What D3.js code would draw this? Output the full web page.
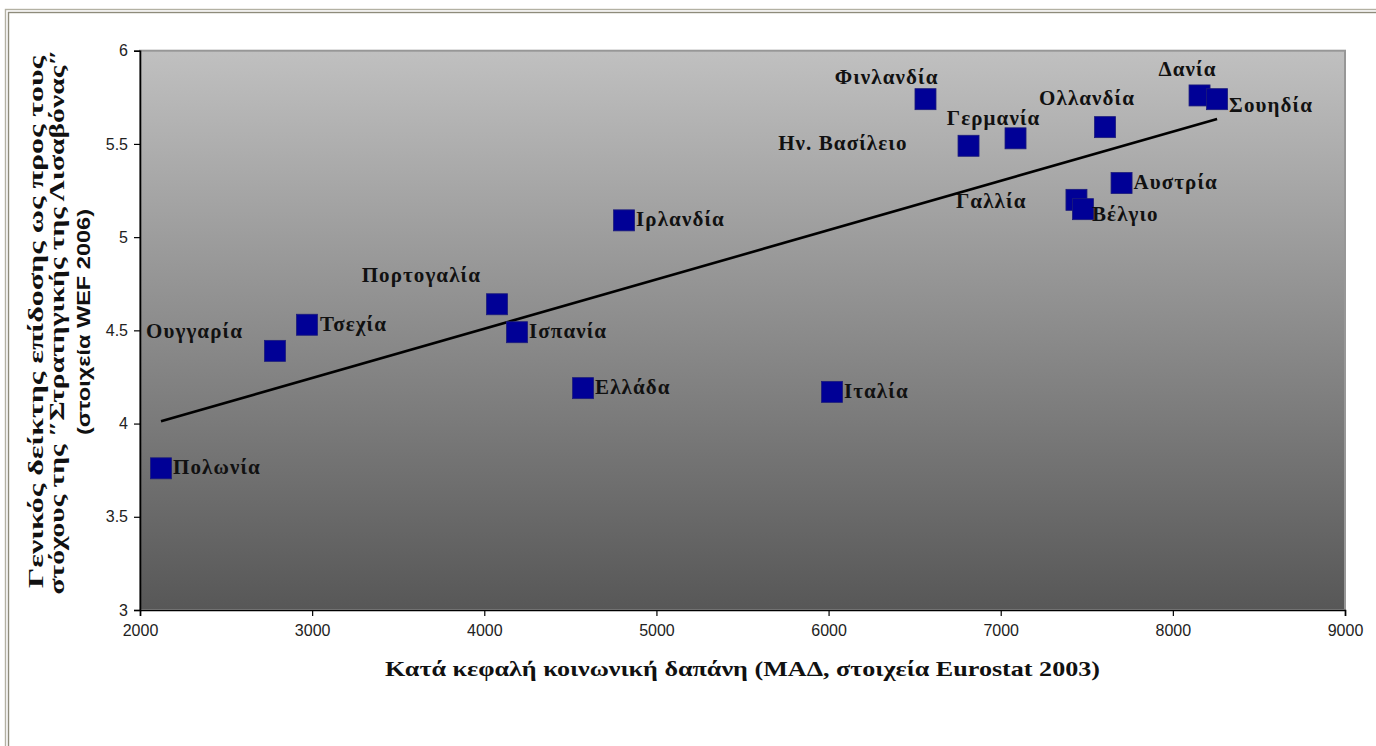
<!DOCTYPE html>
<html>
<head>
<meta charset="utf-8">
<script src="https://cdn.jsdelivr.net/npm/d3@7"></script>
<style>
  body { margin: 0; background: #fff; }
  svg { display: block; }
</style>
</head>
<body>
<div id="chart"></div>
<script>
// values
const countries = ["Πολωνία", "Ουγγαρία", "Τσεχία", "Πορτογαλία", "Ισπανία", "Ελλάδα",
    "Ιρλανδία", "Ιταλία", "Φινλανδία", "Ην. Βασίλειο", "Γερμανία", "Ολλανδία",
    "Αυστρία", "Γαλλία", "Βέλγιο", "Δανία", "Σουηδία"];
const spending = [2122, 2784, 2970, 4074, 4190, 4574, 4812, 6020, 6563, 6813, 7086, 7606,
    7702, 7440, 7478, 8155, 8257];
const lisbonIndex = [3.76, 4.39, 4.53, 4.64, 4.49, 4.19, 5.09, 4.17, 5.74, 5.49, 5.53, 5.59,
    5.29, 5.20, 5.15, 5.76, 5.74];
const xTicks = [2000, 3000, 4000, 5000, 6000, 7000, 8000, 9000];
const yTicks = [3, 3.5, 4, 4.5, 5, 5.5, 6];

const xTitle = "Κατά κεφαλή κοινωνική δαπάνη (ΜΑΔ, στοιχεία Eurostat 2003)";
const yTitle = ["Γενικός δείκτης επίδοσης ως προς τους",
    "στόχους της \u2033Στρατηγικής της Λισαβόνας\u2033",
    "(στοιχεία WEF 2006)"];

// label placement next to each square: [dx, dy, anchor]
const labelPlace = {
    "Πολωνία": [12, 6, "start"],
    "Ουγγαρία": [-32, -13, "end"],
    "Τσεχία": [13, 6, "start"],
    "Πορτογαλία": [-16, -22, "end"],
    "Ισπανία": [12, 6, "start"],
    "Ελλάδα": [12, 6, "start"],
    "Ιρλανδία": [12, 6, "start"],
    "Ιταλία": [12, 6, "start"],
    "Φινλανδία": [13, -15, "end"],
    "Ην. Βασίλειο": [-61, 4, "end"],
    "Γερμανία": [-22, -13, "middle"],
    "Ολλανδία": [-18, -22, "middle"],
    "Αυστρία": [12, 6, "start"],
    "Γαλλία": [-50, 8, "end"],
    "Βέλγιο": [9, 12, "start"],
    "Δανία": [-12, -19, "middle"],
    "Σουηδία": [12, 13, "start"]
};

const width = 1376, height = 746;
const plot = {left: 140, right: 1345, top: 50.7, bottom: 610};

const svg = d3.select("#chart").append("svg")
    .attr("width", width)
    .attr("height", height);

// frame around the whole picture
svg.append("rect")
    .attr("x", 5.5).attr("y", 9.5)
    .attr("width", 1500).attr("height", 900)
    .attr("fill", "none")
    .attr("stroke", "#b3b1a3")
    .attr("stroke-width", 1.4);
svg.append("rect")
    .attr("x", 8.5).attr("y", 12.5)
    .attr("width", 1500).attr("height", 900)
    .attr("fill", "none")
    .attr("stroke", "#8e8b7b")
    .attr("stroke-width", 1.4);

const x = d3.scaleLinear().domain([2000, 9000]).range([plot.left, plot.right]);
const y = d3.scaleLinear().domain([3, 6]).range([plot.bottom, plot.top]);

// background gradient of the plot area
const grad = svg.append("defs").append("linearGradient")
    .attr("id", "bg").attr("x1", 0).attr("y1", 0).attr("x2", 0).attr("y2", 1);
grad.append("stop").attr("offset", "0%").attr("stop-color", "#c0c0c0");
grad.append("stop").attr("offset", "100%").attr("stop-color", "#575757");

svg.append("rect")
    .attr("x", plot.left).attr("y", plot.top)
    .attr("width", plot.right - plot.left)
    .attr("height", plot.bottom - plot.top)
    .attr("fill", "url(#bg)")
    .attr("stroke", "#979797")
    .attr("stroke-width", 2);

// axes
const xAxis = svg.append("g")
    .attr("transform", `translate(0,${plot.bottom})`)
    .call(d3.axisBottom(x).tickValues(xTicks).tickSize(6).tickFormat(d3.format("d")));
const yAxis = svg.append("g")
    .attr("transform", `translate(${plot.left},0)`)
    .call(d3.axisLeft(y).tickValues(yTicks).tickSize(6).tickFormat(d => d));

[xAxis, yAxis].forEach(a => {
    a.select(".domain").attr("stroke", "#000").attr("stroke-width", 1.6);
    a.selectAll(".tick line").attr("stroke", "#000").attr("stroke-width", 1.2);
    a.selectAll(".tick text")
        .attr("fill", "#222")
        .style("font-family", "'Liberation Sans', Arial, sans-serif")
        .style("font-size", "16px");
});
xAxis.selectAll(".tick text").attr("dy", "1.05em");
yAxis.selectAll(".tick text").attr("x", -12);

// least squares trend line
const mx = d3.mean(spending), my = d3.mean(lisbonIndex);
const sxy = d3.sum(spending, (v, i) => (v - mx) * (lisbonIndex[i] - my));
const sxx = d3.sum(spending, v => (v - mx) * (v - mx));
const slope = sxy / sxx, icpt = my - slope * mx;
const trendX = d3.extent(spending);

svg.append("line")
    .attr("x1", x(trendX[0])).attr("y1", y(icpt + slope * trendX[0]))
    .attr("x2", x(trendX[1])).attr("y2", y(icpt + slope * trendX[1]))
    .attr("stroke", "#000")
    .attr("stroke-width", 2.6);

// points
const sq = 21;
const pts = countries.map((c, i) => ({name: c, sx: spending[i], sy: lisbonIndex[i]}));

svg.append("g")
    .selectAll("rect")
    .data(pts)
    .join("rect")
    .attr("x", d => x(d.sx) - sq / 2)
    .attr("y", d => y(d.sy) - sq / 2)
    .attr("width", sq).attr("height", sq)
    .attr("fill", "#000096")
    .attr("stroke", "#1c1c7a")
    .attr("stroke-width", 0.8);

svg.append("g")
    .selectAll("text")
    .data(pts)
    .join("text")
    .attr("x", d => x(d.sx) + labelPlace[d.name][0])
    .attr("y", d => y(d.sy) + labelPlace[d.name][1])
    .attr("text-anchor", d => labelPlace[d.name][2])
    .style("font-family", "'Liberation Serif', 'Times New Roman', serif")
    .style("font-weight", "bold")
    .style("font-size", "21px")
    .style("letter-spacing", "1.1px")
    .attr("fill", "#111")
    .text(d => d.name);

// axis titles
svg.append("text")
    .attr("x", (plot.left + plot.right) / 2)
    .attr("y", 676)
    .attr("text-anchor", "middle")
    .attr("textLength", 715)
    .attr("lengthAdjust", "spacingAndGlyphs")
    .style("font-family", "'Liberation Serif', 'Times New Roman', serif")
    .style("font-weight", "bold")
    .style("font-size", "22px")
    .attr("fill", "#111")
    .text(xTitle);

const yLens = [532, 545, 226];
const yt = svg.append("text")
    .attr("transform", "translate(0,322) rotate(-90)")
    .attr("text-anchor", "middle")
    .attr("fill", "#111")
    .style("font-weight", "bold");
yTitle.forEach((line, i) => {
    yt.append("tspan")
        .attr("x", 0)
        .attr("y", [43, 64, 90][i])
        .attr("textLength", yLens[i])
        .attr("lengthAdjust", "spacingAndGlyphs")
        .style("font-family", i < 2 ? "'Liberation Serif', 'Times New Roman', serif"
                                    : "'Liberation Sans', Arial, sans-serif")
        .style("font-size", i < 2 ? "21px" : "19px")
        .text(line);
});
</script>
</body>
</html>
